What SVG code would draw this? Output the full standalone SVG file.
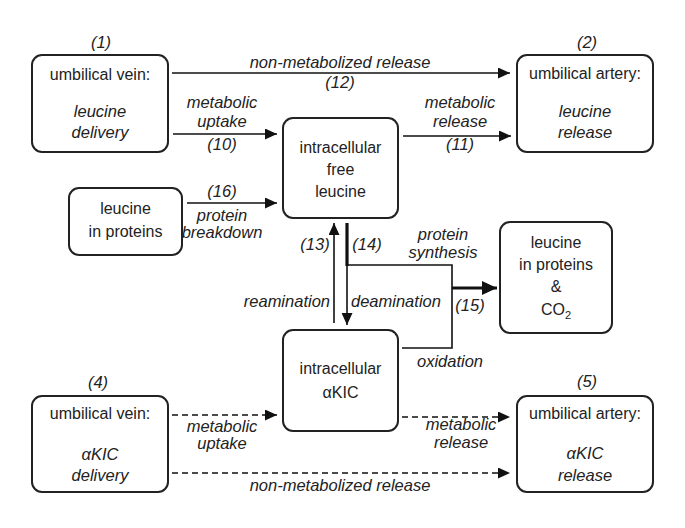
<svg xmlns="http://www.w3.org/2000/svg" width="685" height="528" viewBox="0 0 685 528">
<defs>
<style>
.box{fill:#fff;stroke:#222;stroke-width:2}
text{font-family:"Liberation Sans",Arial,sans-serif;font-size:16px;fill:#222;text-anchor:middle}
.i{font-style:italic;font-size:16.5px}
.ln{stroke:#111;stroke-width:1.6;fill:none}
.dash{stroke-dasharray:6 4}
.thick{stroke:#111;stroke-width:3.2;fill:none}
</style>
<marker id="ah" markerUnits="userSpaceOnUse" markerWidth="13" markerHeight="11" refX="12" refY="5.5" orient="auto"><path d="M0,0 L12,5.5 L0,11 Z" fill="#111"/></marker>
<marker id="ahb" markerUnits="userSpaceOnUse" markerWidth="16" markerHeight="14" refX="15" refY="7" orient="auto"><path d="M0,0 L15,7 L0,14 Z" fill="#111"/></marker>
</defs>
<rect width="685" height="528" fill="#fff"/>

<g id="connectors">
<line class="ln" x1="172" y1="73" x2="510" y2="73" marker-end="url(#ah)"/>
<line class="ln" x1="173" y1="134" x2="277" y2="134" marker-end="url(#ah)"/>
<line class="ln" x1="403" y1="136" x2="511" y2="136" marker-end="url(#ah)"/>
<line class="ln" x1="187" y1="203" x2="277" y2="203" marker-end="url(#ah)"/>
<line class="ln" x1="334" y1="323" x2="334" y2="223" marker-end="url(#ah)"/>
<line class="thick" x1="347" y1="223" x2="347" y2="266"/>
<line class="ln" x1="347" y1="265" x2="347" y2="325" marker-end="url(#ah)"/>
<path class="ln" d="M347,265 H452 V348 H402"/>
<line class="thick" x1="452" y1="288" x2="497" y2="288" marker-end="url(#ahb)"/>
<line class="ln dash" x1="172" y1="415" x2="277" y2="415" marker-end="url(#ah)"/>
<line class="ln dash" x1="402" y1="417" x2="510" y2="417" marker-end="url(#ah)"/>
<line class="ln dash" x1="172" y1="473" x2="510" y2="473" marker-end="url(#ah)"/>

<text class="i" x="340" y="68">non-metabolized release</text>
<text class="i" x="340" y="88">(12)</text>
<text class="i" x="222" y="108">metabolic</text>
<text class="i" x="222" y="127">uptake</text>
<text class="i" x="222" y="150">(10)</text>
<text class="i" x="460" y="108">metabolic</text>
<text class="i" x="460" y="127">release</text>
<text class="i" x="460" y="150">(11)</text>
<text class="i" x="222" y="197">(16)</text>
<text class="i" x="222" y="221">protein</text>
<text class="i" x="222" y="238">breakdown</text>
<text class="i" x="315" y="250">(13)</text>
<text class="i" x="367" y="250">(14)</text>
<text class="i" x="443" y="240">protein</text>
<text class="i" x="443" y="258">synthesis</text>
<text class="i" x="330" y="307" style="text-anchor:end">reamination</text>
<text class="i" x="351" y="307" style="text-anchor:start">deamination</text>
<text class="i" x="470" y="311">(15)</text>
<text class="i" x="450" y="367">oxidation</text>
<text class="i" x="222" y="432">metabolic</text>
<text class="i" x="222" y="449">uptake</text>
<text class="i" x="461" y="430">metabolic</text>
<text class="i" x="461" y="448">release</text>
<text class="i" x="340" y="491">non-metabolized release</text>
</g>

<g id="n1">
<text class="i" x="101" y="48">(1)</text>
<rect class="box" x="32" y="55" width="136" height="97" rx="10"/>
<text x="100" y="80">umbilical vein:</text>
<text class="i" x="100" y="117">leucine</text>
<text class="i" x="100" y="138">delivery</text>
</g>

<g id="n2">
<text class="i" x="587" y="48">(2)</text>
<rect class="box" x="517" y="55" width="136" height="97" rx="10"/>
<text x="585" y="79">umbilical artery:</text>
<text class="i" x="585" y="117">leucine</text>
<text class="i" x="585" y="138">release</text>
</g>

<g id="n_free">
<rect class="box" x="283" y="118" width="115" height="100" rx="10"/>
<text x="340.5" y="153">intracellular</text>
<text x="340.5" y="175">free</text>
<text x="340.5" y="197">leucine</text>
</g>

<g id="n_prot">
<rect class="box" x="69" y="188" width="113" height="67" rx="10"/>
<text x="125.5" y="214">leucine</text>
<text x="125.5" y="237">in proteins</text>
</g>

<g id="n_co2">
<rect class="box" x="500" y="222" width="112" height="111" rx="10"/>
<text x="556" y="248">leucine</text>
<text x="556" y="270">in proteins</text>
<text x="556" y="292">&amp;</text>
<text x="556" y="315">CO<tspan font-size="11" dy="4">2</tspan></text>
</g>

<g id="n_kic">
<rect class="box" x="283" y="330" width="115" height="101" rx="10"/>
<text x="340.5" y="374">intracellular</text>
<text x="340.5" y="398">αKIC</text>
</g>

<g id="n4">
<text class="i" x="98" y="388">(4)</text>
<rect class="box" x="32" y="396" width="136" height="96" rx="10"/>
<text x="100" y="419">umbilical vein:</text>
<text class="i" x="100" y="460">αKIC</text>
<text class="i" x="100" y="481">delivery</text>
</g>

<g id="n5">
<text class="i" x="587" y="387">(5)</text>
<rect class="box" x="517" y="396" width="136" height="96" rx="10"/>
<text x="585" y="419">umbilical artery:</text>
<text class="i" x="585" y="459">αKIC</text>
<text class="i" x="585" y="481">release</text>
</g>
</svg>
